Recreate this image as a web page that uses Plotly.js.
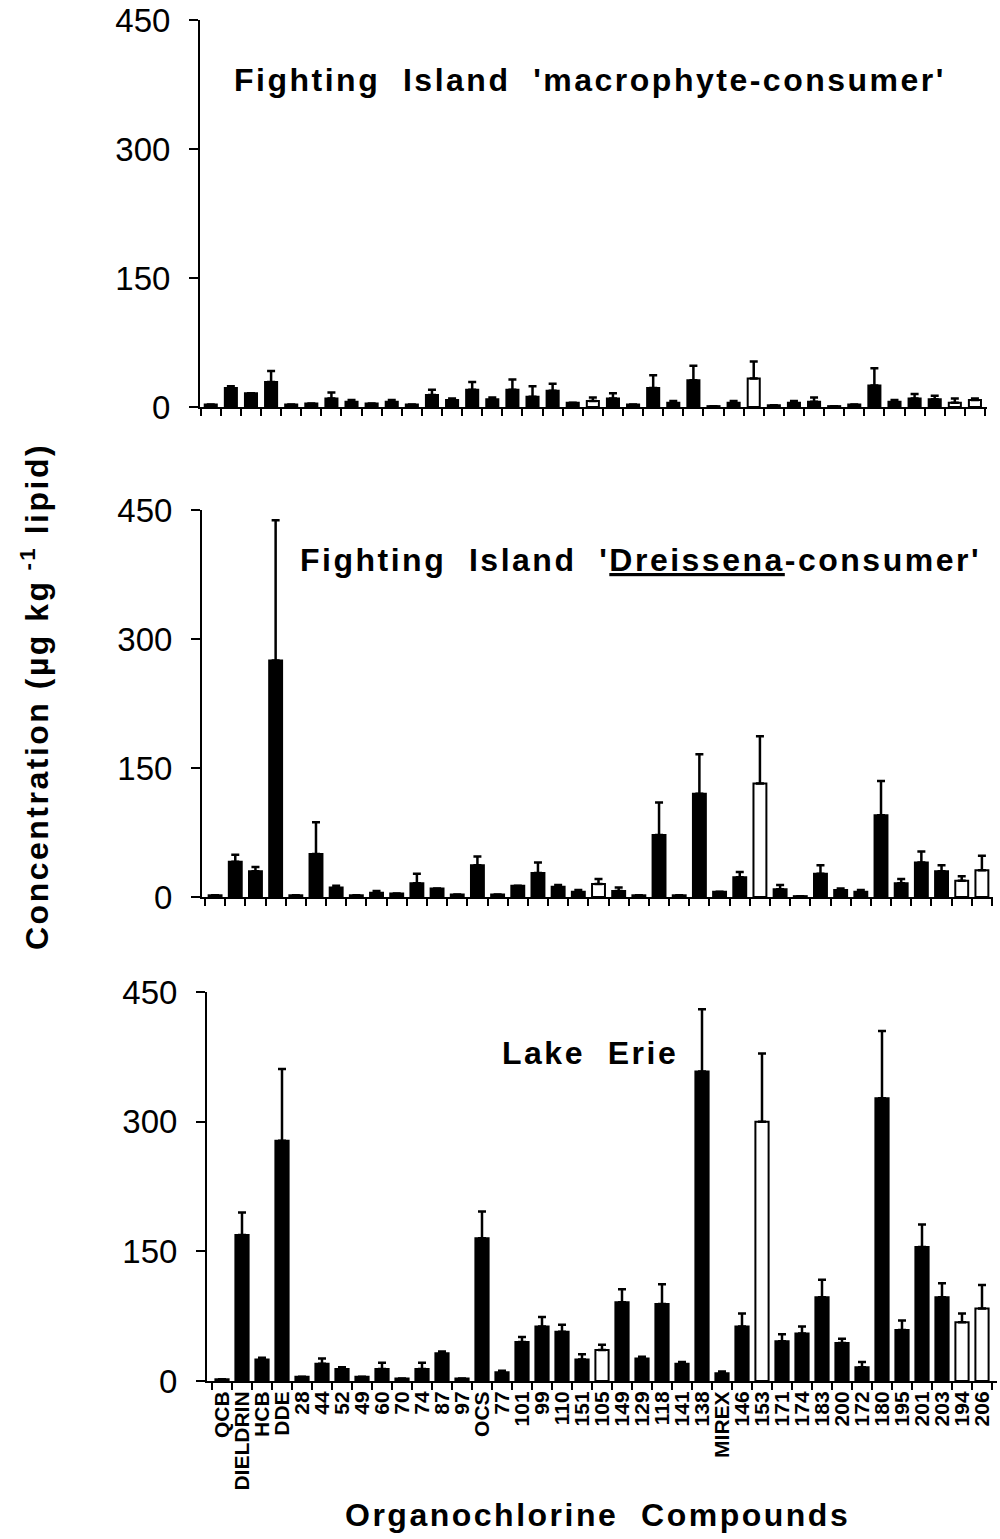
<!DOCTYPE html>
<html>
<head>
<meta charset="utf-8">
<script src="https://cdn.plot.ly/plotly-3.0.1.min.js"></script>
<style>
  html, body { margin: 0; padding: 0; background: #fff; }
  #chart { width: 1000px; height: 1539px; }
  .annotation-text { letter-spacing: 2.5px; }
</style>
</head>
<body>
<div id="chart"></div>
<script>
// Organochlorine compounds (x categories, shared by all three panels)
const compounds = ['QCB','DIELDRIN','HCB','DDE','28','44','52','49','60','70','74','87','97','OCS','77','101','99','110','151','105','149','129','118','141','138','MIREX','146','153','171','174','183','200','172','180','195','201','203','194','206'];

// Compounds drawn as open bars
const openCompounds = ['105','153','194','206'];

// Fighting Island 'macrophyte-consumer' : mean and upper error (µg/kg lipid)
const macroMean = [3,22,16,29,3,4,10,6,4,6,3,14,8,20,9,20,12,19,5,7,10,3,22,5,31,1,5,33,2,5,6,1,3,25,6,10,9,5,8];
const macroErr  = [null,2,null,13,null,null,7,2,null,2,null,6,2,9,2,12,12,8,null,4,6,null,15,2,17,null,2,20,null,2,5,null,null,20,2,5,4,5,2];

// Fighting Island 'Dreissena-consumer'
const dreisMean = [2,41,30,275,2,50,11,2,5,4,16,10,3,37,3,13,28,12,6,15,7,2,72,2,120,6,23,132,9,1,27,8,6,95,16,40,30,19,31];
const dreisErr  = [null,8,5,163,null,37,2,null,2,null,11,null,null,10,null,null,12,2,2,6,4,null,38,null,46,null,6,55,5,null,10,2,2,40,5,13,7,5,17];

// Lake Erie
const erieMean = [2,169,25,278,5,20,14,5,14,3,14,32,3,165,10,45,63,57,25,36,91,26,89,20,358,9,63,300,46,55,97,44,16,327,59,155,97,68,84];
const erieErr  = [null,26,2,83,null,6,2,null,7,null,7,2,null,31,2,6,11,8,6,6,15,2,23,2,72,2,15,79,8,8,20,5,6,78,11,26,16,10,27];

// Panel titles
const panelTitles = [
  "Fighting  Island  'macrophyte-consumer'",
  "Fighting  Island  '<u>Dreissena</u>-consumer'",
  "Lake  Erie"
];
const xTitle = "Organochlorine  Compounds";
const yTitle = "Concentration (µg kg<sup> -1</sup> lipid)";
const yTicks = [0, 150, 300, 450];

const W = 1000, H = 1539;
const px = x => x / W;
const py = y => 1 - y / H;

const fillColors = compounds.map(c => openCompounds.includes(c) ? '#ffffff' : '#000000');

function barTrace(mean, err, axisIdx, width) {
  const sfx = axisIdx === 1 ? '' : String(axisIdx);
  return {
    type: 'bar',
    x: compounds,
    y: mean,
    xaxis: 'x' + sfx,
    yaxis: 'y' + sfx,
    width: width,
    marker: { color: fillColors, line: { color: '#000', width: 2 } },
    error_y: {
      type: 'data', symmetric: false,
      array: err, arrayminus: err.map(() => 0),
      color: '#000', thickness: 2.5, width: 4
    },
    hoverinfo: 'x+y',
    showlegend: false
  };
}

const data = [
  barTrace(macroMean, macroErr, 1, 0.6),
  barTrace(dreisMean, dreisErr, 2, 0.64),
  barTrace(erieMean, erieErr, 3, 0.66)
];

const tickFont = { family: 'Liberation Sans, Arial, sans-serif', size: 33, color: '#000' };

function xAxis(domain, range, showLabels, anchor) {
  return {
    type: 'category',
    categoryorder: 'array',
    categoryarray: compounds,
    tickmode: 'array',
    tickvals: compounds,
    ticktext: compounds,
    domain: domain,
    range: range,
    anchor: anchor,
    showline: true, linecolor: '#000', linewidth: 2,
    ticks: 'outside', tickson: 'boundaries', ticklen: 7, tickwidth: 2, tickcolor: '#000',
    showgrid: false, zeroline: false,
    showticklabels: showLabels,
    tickangle: -90,
    tickfont: { family: 'Liberation Sans, Arial, sans-serif', size: 21, color: '#000', weight: 'bold' },
    fixedrange: true
  };
}

function yAxis(domain, anchor) {
  return {
    domain: domain,
    range: [0, 450],
    anchor: anchor,
    tickmode: 'array', tickvals: yTicks, ticktext: yTicks.map(String),
    showline: true, linecolor: '#000', linewidth: 2,
    ticks: 'outside', ticklen: 9, tickwidth: 2, tickcolor: '#000',
    ticklabelstandoff: 12,
    showgrid: false, zeroline: false,
    tickfont: tickFont,
    fixedrange: true
  };
}

const titleFont = { family: 'Liberation Sans, Arial, sans-serif', size: 32, color: '#000', weight: 'bold' };

const layout = {
  width: W, height: H,
  margin: { l: 0, r: 0, t: 0, b: 0 },
  paper_bgcolor: '#fff', plot_bgcolor: '#fff',
  xaxis:  xAxis([0.200, 0.987], [-0.535, 38.6], false, 'y'),
  yaxis:  yAxis([py(407), py(20)], 'x'),
  xaxis2: xAxis([0.202, 0.993], [-0.649, 38.55], false, 'y2'),
  yaxis2: yAxis([py(897), py(510)], 'x2'),
  xaxis3: xAxis([0.207, 0.997], [-0.75, 38.75], true, 'y3'),
  yaxis3: yAxis([py(1381), py(992)], 'x3'),
  annotations: [
    { text: panelTitles[0], xref: 'paper', yref: 'paper', x: px(232), y: py(80),
      xanchor: 'left', yanchor: 'middle', showarrow: false, font: titleFont },
    { text: panelTitles[1], xref: 'paper', yref: 'paper', x: px(298), y: py(560),
      xanchor: 'left', yanchor: 'middle', showarrow: false, font: titleFont },
    { text: panelTitles[2], xref: 'paper', yref: 'paper', x: px(500), y: py(1053),
      xanchor: 'left', yanchor: 'middle', showarrow: false, font: titleFont },
    { text: xTitle, xref: 'paper', yref: 'paper', x: px(597), y: py(1515),
      xanchor: 'center', yanchor: 'middle', showarrow: false, font: titleFont },
    { text: yTitle, xref: 'paper', yref: 'paper', x: px(35), y: py(697),
      xanchor: 'center', yanchor: 'middle', textangle: -90, showarrow: false, font: titleFont }
  ]
};

Plotly.newPlot('chart', data, layout, { displayModeBar: false, staticPlot: true });
</script>
</body>
</html>
